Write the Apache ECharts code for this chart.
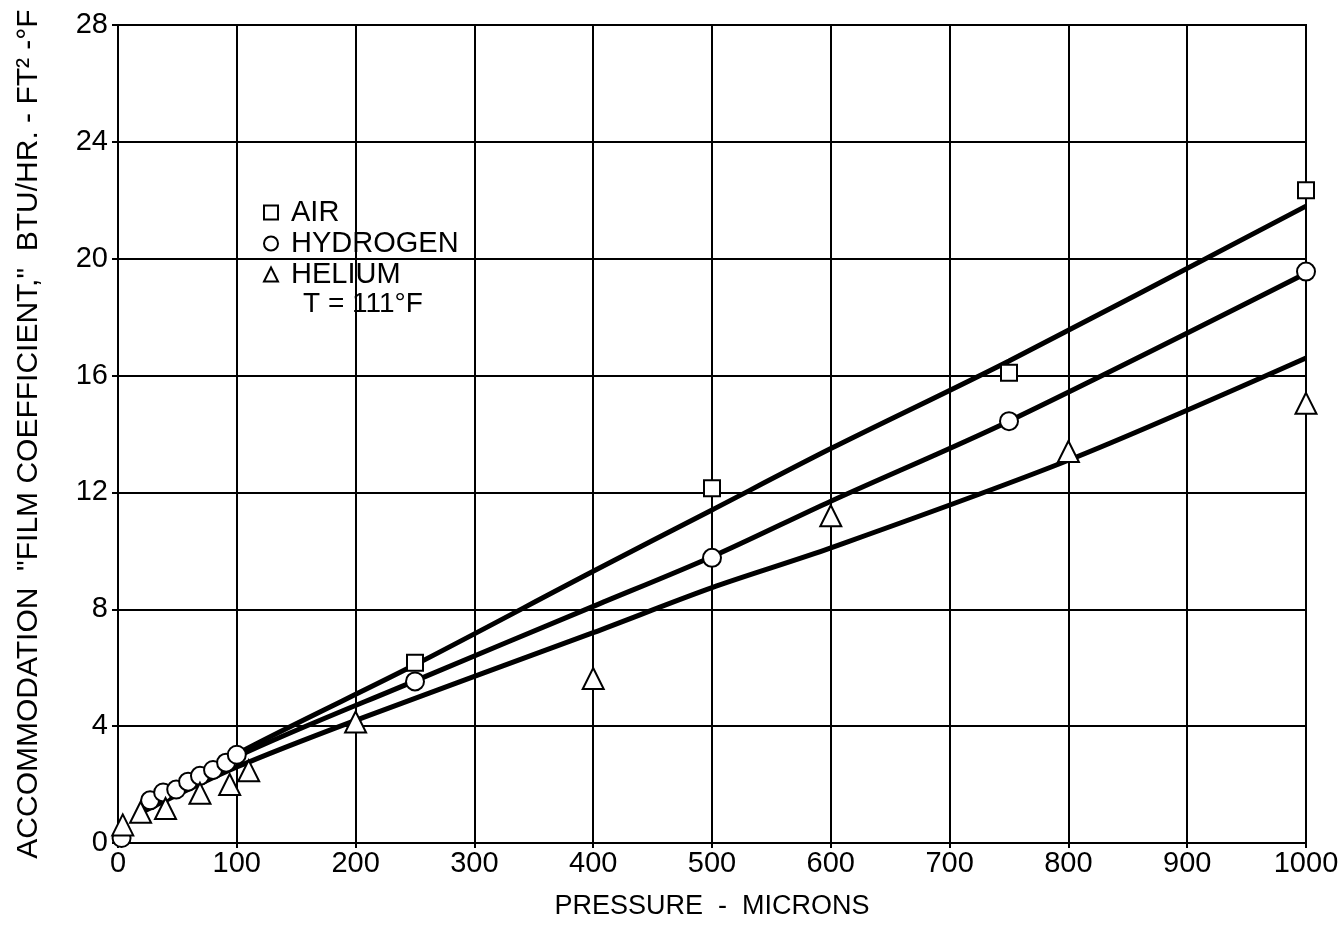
<!DOCTYPE html>
<html>
<head>
<meta charset="utf-8">
<script src="https://cdn.jsdelivr.net/npm/echarts@6/dist/echarts.min.js"></script>
<style>
	html, body { margin: 0; padding: 0; background: #fff; }
	#chart { width: 1342px; height: 925px; }
</style>
</head>
<body>
<div id="chart"></div>
<script>
	// measured points
	var airX = [250, 500, 750, 1000];
	var airY = [6.17, 12.14, 16.1, 22.34];
	var h2X = [3, 27, 38, 49, 59, 69, 80, 91, 100, 250, 500, 750, 1000];
	var h2Y = [0.17, 1.46, 1.73, 1.83, 2.1, 2.3, 2.5, 2.75, 3.02, 5.53, 9.76, 14.44, 19.56];
	var heX = [4, 19, 40, 69, 94, 110, 200, 400, 600, 800, 1000];
	var heY = [0.62, 1.05, 1.18, 1.7, 2.0, 2.47, 4.14, 5.63, 11.2, 13.4, 15.05];

	// faired curves
	var airFitX = [20, 100, 250, 400, 500, 600, 750, 1000];
	var airFitY = [1.1, 3.05, 6.1, 9.3, 11.4, 13.5, 16.5, 21.8];
	var h2FitX = [20, 100, 250, 400, 500, 600, 750, 1000];
	var h2FitY = [1.1, 2.95, 5.55, 8.1, 9.8, 11.7, 14.44, 19.5];
	var heFitX = [20, 100, 200, 400, 500, 600, 800, 1000];
	var heFitY = [1.05, 2.6, 4.2, 7.2, 8.74, 10.1, 13.1, 16.6];

	var xTicks = [0, 100, 200, 300, 400, 500, 600, 700, 800, 900, 1000];
	var yTicks = [0, 4, 8, 12, 16, 20, 24, 28];

	var font = 'Liberation Sans, Arial, sans-serif';

	function pairs(xs, ys) {
		var out = [];
		for (var i = 0; i < xs.length; i++) {
			out.push([xs[i], ys[i]]);
		}
		return out;
	};

	function fitLine(xs, ys) {
		return {
			type: 'line',
			data: pairs(xs, ys),
			smooth: 0.3,
			showSymbol: false,
			silent: true,
			z: 3,
			lineStyle: { color: '#000', width: 5 }
		};
	};

	function points(name, sym, size, xs, ys) {
		return {
			name: name,
			type: 'scatter',
			symbol: sym,
			symbolSize: size,
			data: pairs(xs, ys),
			z: 5,
			itemStyle: { color: '#fff', borderColor: '#000', borderWidth: 2, opacity: 1 }
		};
	};

	var myChart = echarts.init(document.getElementById('chart'));
	var option = {
		backgroundColor: '#fff',
		animation: false,
		grid: {
			left: 118,
			right: 36,
			top: 25,
			bottom: 74,
			show: true,
			borderColor: '#000',
			borderWidth: 2
		},
		legend: {
			data: ['AIR', 'HYDROGEN', 'HELIUM'],
			orient: 'vertical',
			left: 258,
			top: 193,
			itemWidth: 14,
			itemHeight: 14,
			itemGap: 2,
			textStyle: { fontFamily: font, fontSize: 29, lineHeight: 22, color: '#000', padding: [2, 0, 0, 8] }
		},
		graphic: [{
			type: 'text',
			left: 303,
			top: 290,
			style: { text: 'T = 111°F', fontFamily: font, fontSize: 28, fill: '#000' }
		}],
		xAxis: {
			type: 'value',
			min: 0,
			max: 1000,
			interval: 100,
			name: 'PRESSURE  -  MICRONS',
			nameLocation: 'middle',
			nameGap: 50,
			nameTextStyle: { fontFamily: font, fontSize: 27, color: '#000' },
			axisLine: { lineStyle: { color: '#000', width: 2 } },
			axisTick: { show: true, length: 5, lineStyle: { color: '#000', width: 2 } },
			axisLabel: {
				fontFamily: font, fontSize: 29, color: '#000', margin: 6,
				formatter: function(v) { return xTicks.indexOf(v) >= 0 ? String(v) : ''; }
			},
			splitLine: { show: true, lineStyle: { color: '#000', width: 2 } }
		},
		yAxis: {
			type: 'value',
			min: 0,
			max: 28,
			interval: 4,
			name: 'ACCOMMODATION  "FILM COEFFICIENT,"  BTU/HR. - FT² -°F',
			nameLocation: 'middle',
			nameGap: 74,
			nameTextStyle: { fontFamily: font, fontSize: 30, color: '#000' },
			axisLine: { lineStyle: { color: '#000', width: 2 } },
			axisTick: { show: true, length: 6, lineStyle: { color: '#000', width: 2 } },
			axisLabel: {
				fontFamily: font, fontSize: 29, color: '#000', margin: 10,
				formatter: function(v) { return yTicks.indexOf(v) >= 0 ? String(v) : ''; }
			},
			splitLine: { show: true, lineStyle: { color: '#000', width: 2 } }
		},
		series: [
			fitLine(airFitX, airFitY),
			fitLine(h2FitX, h2FitY),
			fitLine(heFitX, heFitY),
			points('AIR', 'rect', 16, airX, airY),
			points('HYDROGEN', 'circle', 18, h2X, h2Y),
			points('HELIUM', 'triangle', 21, heX, heY)
		]
	};
	myChart.setOption(option);
</script>
</body>
</html>
